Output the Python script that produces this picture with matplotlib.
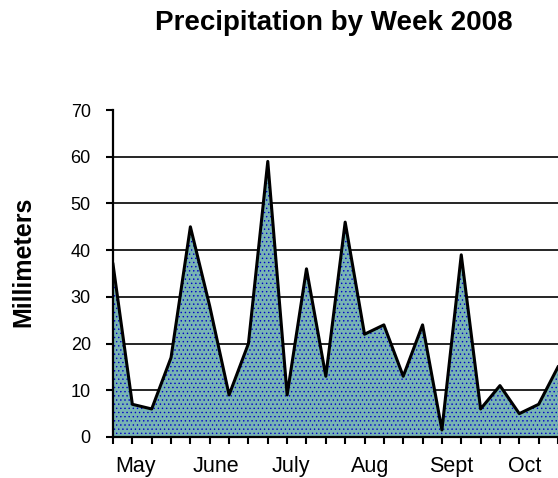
import numpy as np
import matplotlib.pyplot as plt

plt.rcParams['font.family'] = ['Liberation Sans', 'DejaVu Sans']
plt.rcParams['hatch.linewidth'] = 0.5

# weekly precipitation, mm (week 0 = start of May)
weeks = np.arange(24)
precip = [37, 7, 6, 17, 45, 28, 9, 20, 59, 9, 36, 13,
          46, 22, 24, 13, 24, 1.5, 39, 6, 11, 5, 7, 15]
months = ['May', 'June', 'July', 'Aug', 'Sept', 'Oct']
month_pos = [1.17, 5.3, 9.2, 13.27, 17.5, 21.26]

fig = plt.figure(figsize=(5.58, 4.78), dpi=100)
ax = fig.add_axes([0.2025, 0.0858, 0.7975, 0.684])

ax.fill_between(weeks, precip, 0, facecolor='#78b4b4', edgecolor='#0000c8',
                linewidth=0, hatch='....', zorder=2)
ax.plot(weeks, precip, color='black', lw=2.2, zorder=3)

ax.set_xlim(0, 22.83)
ax.set_ylim(0, 70)
ax.set_yticks(range(0, 71, 10))
ax.tick_params(axis='y', direction='out', length=5, width=1.5, pad=11,
               labelsize=13)
ax.set_xticks(weeks, minor=True)
ax.set_xticks(month_pos)
ax.set_xticklabels(months)
ax.tick_params(axis='x', which='major', length=0, pad=14, labelsize=15.5)
ax.tick_params(axis='x', which='minor', direction='out', length=5, width=1.5)

ax.yaxis.grid(True, color='black', lw=1.2, zorder=1)
ax.get_ygridlines()[-1].set_visible(False)
ax.set_axisbelow(True)

for s in ['top', 'right']:
    ax.spines[s].set_visible(False)
ax.spines['left'].set_linewidth(1.6)
ax.spines['bottom'].set_linewidth(1.6)

fig.text(0.598, 0.937, 'Precipitation by Week 2008', ha='center',
         va='baseline', fontsize=20, fontweight='bold')
fig.text(0.042, 0.452, 'Millimeters', rotation=90, ha='center', va='center',
         fontsize=18, fontweight='bold')

fig.savefig('out.png', dpi=100)
